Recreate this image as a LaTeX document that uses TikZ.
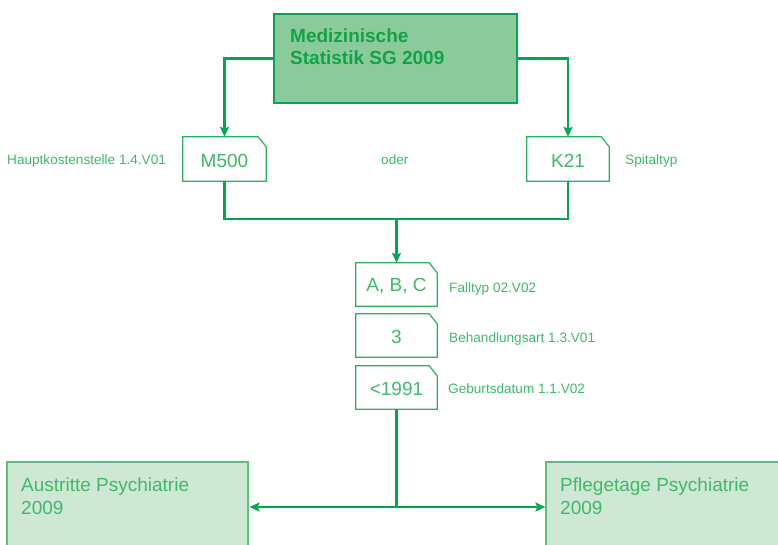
\documentclass[tikz,border=0pt]{standalone}
\usepackage{fontspec}
\setmainfont{Liberation Sans}
\usetikzlibrary{arrows.meta}
\definecolor{lineg}{HTML}{00A84F}
\definecolor{topfill}{HTML}{8BCB9B}
\definecolor{toptext}{HTML}{12A24A}
\definecolor{labg}{HTML}{3FB96A}
\definecolor{boxg}{HTML}{2DB060}
\definecolor{botfill}{HTML}{CFE8D4}
\definecolor{botline}{HTML}{5CC07D}
\tikzset{
  conn/.style={draw=lineg, line width=2.3pt},
  tiphead/.tip={Stealth[length=10pt,width=9pt,inset=2pt]},
  tip/.style={-tiphead},
  smallbox/.style={inner sep=0pt, minimum width=81pt, minimum height=43pt, text=labg, font=\fontsize{19}{22}\selectfont},
  earline/.style={draw=boxg, line width=1.2pt, fill=white},
  lab/.style={anchor=base west, inner sep=0pt, text=labg, font=\fontsize{13.6}{15}\selectfont},
  topbox/.style={draw=lineg, line width=2.6pt, fill=topfill, inner sep=0pt, minimum width=243pt, minimum height=89pt},
  botbox/.style={draw=botline, line width=1.2pt, fill=botfill, inner sep=0pt, minimum width=241pt, minimum height=110pt},
  bottext/.style={anchor=base west, inner sep=0pt, align=left, text=labg, font=\fontsize{19}{23}\selectfont},
}
\newcommand{\dogear}[1]{%
  \path[earline] (#1.south west) -- (#1.north west) -- ([xshift=-8pt]#1.north east)
    -- ([yshift=-10pt]#1.north east) -- (#1.south east) -- cycle;}
\begin{document}
\begin{tikzpicture}[x=1pt,y=-1pt]
\useasboundingbox (0,0) rectangle (778,545);
\clip (0,0) rectangle (778,545);
% top box
\node[topbox] (top) at (395.5,58.5) {};
\node[anchor=base west, inner sep=0pt, align=left, text=toptext, font=\bfseries\fontsize{19}{22}\selectfont] (toptxt) at (290,65) {Medizinische\\Statistik SG 2009};
% small boxes
\node[smallbox, minimum width=83pt, minimum height=44pt] (m500) at (224.5,159) {};
\node[smallbox, minimum width=82pt, minimum height=44pt] (k21) at (568,159) {};
\node[smallbox] (abc) at (396.5,284.5) {};
\node[smallbox] (drei) at (396.5,335.5) {};
\node[smallbox] (geb) at (396.5,387.5) {};
\dogear{m500}\dogear{k21}\dogear{abc}\dogear{drei}\dogear{geb}
\node[smallbox] at ([yshift=-1.5pt]m500) {M500};
\node[smallbox] at ([yshift=-1.5pt]k21) {K21};
\node[smallbox] at ([yshift=-1.5pt]abc) {A, B, C};
\node[smallbox] at ([yshift=-1.5pt]drei) {3};
\node[smallbox] at ([yshift=-1.5pt]geb) {<1991};
% labels
\node[lab] (l1) at (7,165) {Hauptkostenstelle 1.4.V01};
\node[lab] (l2) at (381,165) {oder};
\node[lab] (l3) at (625,165) {Spitaltyp};
\node[lab] (l4) at (449,292) {Falltyp 02.V02};
\node[lab] (l5) at (449,342) {Behandlungsart 1.3.V01};
\node[lab] (l6) at (448,393) {Geburtsdatum 1.1.V02};
% bottom boxes
\node[botbox] (aus) at (127.5,517) {};
\node[botbox, minimum width=250pt] (pfl) at (671,517) {};
\node[bottext] (austxt) at (21,514) {Austritte Psychiatrie\\2009};
\node[bottext] (pfltxt) at (560,514) {Pflegetage Psychiatrie\\2009};
% connectors
\coordinate (j1) at (396.5,219);
\coordinate (j2) at (396.5,507);
\draw[conn, tip] (top.west) -| (m500.north);
\draw[conn, tip] (top.east) -| (k21.north);
\draw[conn] (m500.south) -- (m500.south |- j1) -- (k21.south |- j1) -- (k21.south);
\draw[conn, tip] (j1) -- (abc.north);
\draw[conn] (geb.south) -- (j2);
\draw[conn, tiphead-tiphead] ([xshift=1pt]aus.east |- j2) -- (pfl.west |- j2);
\end{tikzpicture}
\end{document}
